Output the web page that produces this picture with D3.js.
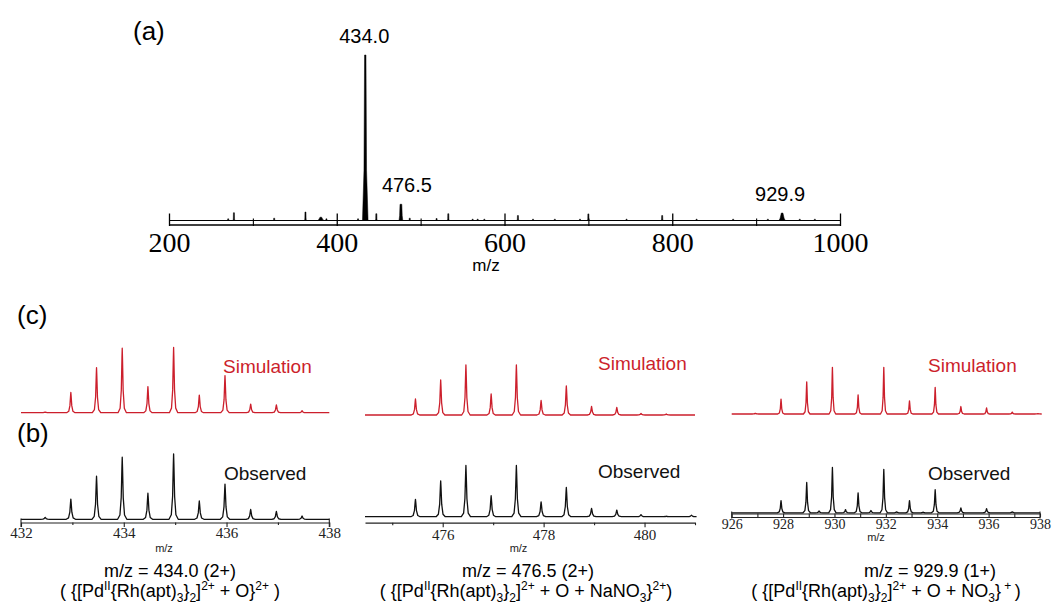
<!DOCTYPE html>
<html>
<head>
<meta charset="utf-8">
<script src="https://cdn.jsdelivr.net/npm/d3@7"></script>
<style>
  html, body { margin: 0; padding: 0; background: #fff; }
  svg { display: block; }
</style>
</head>
<body>
<svg id="chart" width="1053" height="607"></svg>
<script>
// ---------------- DATA ----------------
// (a) full spectrum: peak m/z and relative intensity (%)
const topMz  = [270.6, 277.4, 325.4, 362.7, 381, 387.7, 425.4, 434.0, 447.2, 476.5, 487, 519, 533, 562, 568, 576, 616, 634, 660, 690, 700, 745.5, 788, 829, 872.6, 914, 931, 952, 970];
const topInt = [1.0,   4.7,   1.4,   5.1,   2.0, 1.0,   1.0,   100,   4.1,   9.8,   1.4, 1.2, 4.1, 0.8, 0.8, 0.8, 3.0, 0.8, 0.8, 0.8, 4.0, 0.8,  3.0, 0.8, 0.8,   0.8, 4.5, 0.8, 0.8];
const topTicks = [200, 400, 600, 800, 1000];
const topMinorTicks = [300, 500, 700, 900];
const topPeakLabels = ["434.0", "476.5", "929.9"];
const topPeakLabelMz = [434.0, 476.5, 931];
const topPeakLabelInt = [100, 9.8, 4.5];

// (b)/(c) isotope patterns
const p1SimMz  = [432.47, 432.97, 433.47, 433.97, 434.47, 434.97, 435.47, 435.97, 436.47, 436.97, 437.47];
const p1SimInt = [1, 31, 69, 99, 40, 100, 27, 57, 13, 12, 3];
const p1ObsMz  = [432.47, 432.97, 433.47, 433.97, 434.47, 434.97, 435.47, 435.97, 436.47, 436.97, 437.47];
const p1ObsInt = [3, 31, 66, 95, 40, 100, 28, 54, 15, 12, 5];
const p1Ticks = [432, 434, 436, 438];
const p1Minor = [433, 435, 437];

const p2SimMz  = [475.46, 475.96, 476.46, 476.96, 477.46, 477.95, 478.45, 478.95, 479.45, 479.93, 480.43];
const p2SimInt = [32, 70, 100, 42, 100, 29, 58, 17, 15, 3, 2];
const p2ObsMz  = [475.46, 475.96, 476.46, 476.96, 477.46, 477.95, 478.45, 478.95, 479.45, 479.93, 480.43, 480.93];
const p2ObsInt = [34, 70, 100, 41, 100, 29, 57, 16, 13, 4, 1, 3];
const p2Ticks = [476, 478, 480];
const p2Minor = [475, 477, 479, 481];

const p3SimMz  = [926.92, 927.92, 928.92, 929.92, 930.92, 931.92, 932.92, 933.92, 934.92, 935.92, 936.92, 937.92];
const p3SimInt = [1.5, 32, 69, 100, 41, 100, 28, 57, 16, 13, 4, 1];
const p3ObsMz  = [927.92, 928.92, 929.4, 929.92, 930.43, 930.92, 931.42, 931.92, 932.42, 932.92, 933.45, 933.92, 934.92, 935.92, 936.92];
const p3ObsInt = [27, 67, 4, 100, 7, 44, 5, 96, 2, 27, 1.5, 51, 11, 9, 2];
const p3Ticks = [926, 928, 930, 932, 934, 936, 938];
const p3Minor = [927, 929, 931, 933, 935, 937];

// ---------------- DRAW ----------------
const svg = d3.select("#chart");
const SANS = "'Liberation Sans', Arial, Helvetica, sans-serif";
const SERIF = "'Liberation Serif', 'Times New Roman', Times, serif";
const RED = "#cc1f2c";
const fmtInt = d3.format("d");

// ---- (a) ----
const xTop = d3.scaleLinear().domain([200, 1000]).range([169, 840]);
const yTop = d3.scaleLinear().domain([0, 100]).range([220.5, 55]);
const gTop = svg.append("g");

gTop.append("line").attr("x1", xTop(200)).attr("x2", xTop(1000))
  .attr("y1", yTop(0)).attr("y2", yTop(0)).attr("stroke", "#000").attr("stroke-width", 1.2);

// peaks as narrow filled spikes (the 929.9 cluster is drawn as a small broad hump)
const peaks = topMz.map((m, i) => ({ m, v: topInt[i], i }));
const broadIdx = new Set([topMz.indexOf(931), topMz.indexOf(381)]);
gTop.selectAll("path.pk").data(peaks).join("path")
  .attr("class", "pk")
  .attr("fill", "#000")
  .attr("stroke", "#000")
  .attr("stroke-width", 0.5)
  .attr("d", d => {
    const x = xTop(d.m), b = yTop(0), t = yTop(d.v), h = b - t;
    let bw, mw, tw;
    if (d.v > 50) { bw = 2.8; mw = 1.3; tw = 0.7; }
    else if (d.v > 8) { bw = 1.9; mw = 1.3; tw = 0.9; }
    else if (broadIdx.has(d.i)) { bw = 3.2; mw = 2.0; tw = 0.8; }
    else { bw = 0.8; mw = 0.6; tw = 0.5; }
    return `M${x - bw},${b} L${x - mw},${b - h * 0.3} L${x - tw},${t} L${x + tw},${t} L${x + mw},${b - h * 0.3} L${x + bw},${b} Z`;
  });

const axTop = d3.axisBottom(xTop).tickValues(topTicks).tickFormat(fmtInt).tickSize(-11).tickSizeOuter(0).tickPadding(0);
const gAx = gTop.append("g").attr("transform", "translate(0,224.5)").call(axTop);
gAx.select(".domain").attr("stroke", "#000").attr("stroke-width", 1.4);
gAx.selectAll(".tick line").attr("stroke", "#000").attr("stroke-width", 1.3).attr("y1", 1.5);
gAx.selectAll(".tick text")
  .attr("y", 27.5).attr("dy", 0)
  .attr("font-family", SERIF).attr("font-size", 28).attr("fill", "#000");
const axTopMinor = d3.axisBottom(xTop).tickValues(topMinorTicks).tickSize(-6).tickSizeOuter(0).tickFormat("");
const gAxm = gTop.append("g").attr("transform", "translate(0,224.5)").call(axTopMinor);
gAxm.select(".domain").remove();
gAxm.selectAll(".tick line").attr("stroke", "#000").attr("stroke-width", 1.1).attr("y1", 1.5);

gTop.append("text").attr("x", 486).attr("y", 271).attr("text-anchor", "middle")
  .attr("font-family", SANS).attr("font-size", 17).text("m/z");

const labelDx = [-1, 6, -2];
gTop.selectAll("text.pl").data(topPeakLabels).join("text")
  .attr("class", "pl")
  .attr("x", (d, i) => xTop(topPeakLabelMz[i]) + labelDx[i])
  .attr("y", (d, i) => yTop(topPeakLabelInt[i]) - 12)
  .attr("text-anchor", "middle")
  .attr("font-family", SANS).attr("font-size", 20).text(d => d);

svg.append("text").attr("x", 133).attr("y", 40).attr("font-family", SANS).attr("font-size", 26).text("(a)");
svg.append("text").attr("x", 17).attr("y", 324).attr("font-family", SANS).attr("font-size", 26).text("(c)");
svg.append("text").attr("x", 17).attr("y", 442).attr("font-family", SANS).attr("font-size", 26).text("(b)");

// ---- isotope panels ----
function spectrumLine(xs, ys, mzArr, intArr, halfW) {
  const base = ys(0);
  const [r0, r1] = xs.range();
  const pts = [[r0, base]];
  mzArr.forEach((m, i) => {
    const x = xs(m), y = ys(intArr[i]), h = base - y;
    pts.push([x - halfW, base], [x - halfW * 0.5, base - h * 0.07], [x - halfW * 0.22, base - h * 0.35],
             [x - halfW * 0.06, base - h * 0.85], [x, y], [x + halfW * 0.06, base - h * 0.85],
             [x + halfW * 0.22, base - h * 0.35], [x + halfW * 0.5, base - h * 0.07], [x + halfW, base]);
  });
  pts.push([r1, base]);
  return d3.line()(pts);
}

const panels = [
  { domain: [432, 438], range: [21, 329.3],
    simMz: p1SimMz, simInt: p1SimInt, simBase: 412.7, simTop: 347.5,
    obsMz: p1ObsMz, obsInt: p1ObsInt, obsBase: 519.3, obsTop: 454,
    ticks: p1Ticks, minor: p1Minor, style: "open", axisY: 522.5, labelY: 538,
    mzX: 164, mzY: 552, simText: [223, 373], obsText: [224, 480], hw: 4.2,
    cap1: [170, 577], cap2: [170, 597] },
  { domain: [474.46, 481], range: [365, 695],
    simMz: p2SimMz, simInt: p2SimInt, simBase: 415, simTop: 365,
    obsMz: p2ObsMz, obsInt: p2ObsInt, obsBase: 516.7, obsTop: 465.5,
    ticks: p2Ticks, minor: p2Minor, style: "open", axisY: 522.7, labelY: 540,
    mzX: 518.5, mzY: 552, simText: [598, 370], obsText: [598, 478], hw: 4.2,
    cap1: [528, 577], cap2: [526, 597] },
  { domain: [926, 938], range: [731.7, 1040],
    simMz: p3SimMz, simInt: p3SimInt, simBase: 414, simTop: 367.3,
    obsMz: p3ObsMz, obsInt: p3ObsInt, obsBase: 512.8, obsTop: 467.5,
    ticks: p3Ticks, minor: p3Minor, style: "box", axisY: 513.5, labelY: 529,
    mzX: 876, mzY: 541, simText: [928, 372], obsText: [928, 480], hw: 3.3,
    cap1: [930, 577], cap2: [886, 597] }
];

panels.forEach(p => {
  const g = svg.append("g");
  const xs = d3.scaleLinear().domain(p.domain).range(p.range);
  const ySim = d3.scaleLinear().domain([0, 100]).range([p.simBase, p.simTop]);
  const yObs = d3.scaleLinear().domain([0, 100]).range([p.obsBase, p.obsTop]);

  g.append("path").attr("d", spectrumLine(xs, ySim, p.simMz, p.simInt, p.hw))
    .attr("fill", "none").attr("stroke", RED).attr("stroke-width", 1.3).attr("stroke-linejoin", "round");
  g.append("path").attr("d", spectrumLine(xs, yObs, p.obsMz, p.obsInt, p.hw + 0.4))
    .attr("fill", "none").attr("stroke", "#111").attr("stroke-width", 1.3).attr("stroke-linejoin", "round");

  const labelSize = p.style === "open" ? 15 : 14;
  const ax = d3.axisBottom(xs).tickValues(p.ticks).tickFormat(fmtInt)
    .tickSize(p.style === "open" ? 4.5 : 4).tickSizeOuter(0).tickPadding(0);
  const ga = g.append("g").attr("transform", `translate(0,${p.axisY})`).call(ax);
  ga.select(".domain").attr("stroke", "#222").attr("stroke-width", 1.2);
  ga.selectAll(".tick line").attr("stroke", "#222").attr("stroke-width", 1.1);
  ga.selectAll(".tick text").attr("y", p.labelY - p.axisY).attr("dy", 0)
    .attr("font-family", SERIF).attr("font-size", labelSize).attr("fill", "#222");
  const axm = d3.axisBottom(xs).tickValues(p.minor)
    .tickSize(p.style === "open" ? 2.5 : 4).tickSizeOuter(0).tickFormat("");
  const gm = g.append("g").attr("transform", `translate(0,${p.axisY})`).call(axm);
  gm.select(".domain").remove();
  gm.selectAll(".tick line").attr("stroke", "#222").attr("stroke-width", 1.1);

  if (p.style === "open") {
    if (p.domain[0] === p.ticks[0]) {
      [p.domain[0], p.domain[1]].forEach(v => {
        g.append("line").attr("x1", xs(v)).attr("x2", xs(v))
          .attr("y1", p.axisY - 4).attr("y2", p.axisY + 4.5)
          .attr("stroke", "#222").attr("stroke-width", 1.1);
      });
    }
  } else {
    g.append("line").attr("x1", p.range[0]).attr("x2", p.range[1])
      .attr("y1", p.axisY + 4).attr("y2", p.axisY + 4).attr("stroke", "#222").attr("stroke-width", 1.1);
    [p.range[0], p.range[1]].forEach(x => {
      g.append("line").attr("x1", x).attr("x2", x).attr("y1", p.axisY - 2).attr("y2", p.axisY + 5)
        .attr("stroke", "#222").attr("stroke-width", 1.1);
    });
  }

  g.append("text").attr("x", p.mzX).attr("y", p.mzY).attr("text-anchor", "middle")
    .attr("font-family", SANS).attr("font-size", 11).attr("fill", "#222").text("m/z");
  g.append("text").attr("x", p.simText[0]).attr("y", p.simText[1])
    .attr("font-family", SANS).attr("font-size", 19).attr("fill", RED).text("Simulation");
  g.append("text").attr("x", p.obsText[0]).attr("y", p.obsText[1])
    .attr("font-family", SANS).attr("font-size", 19).attr("fill", "#111").text("Observed");
});

// ---- captions ----
const captionMain = ["m/z = 434.0 (2+)", "m/z = 476.5 (2+)", "m/z = 929.9 (1+)"];
const captionFormula = [
  [["( {[Pd", 0], ["II", 1], ["{Rh(apt)", 0], ["3", -1], ["}", 0], ["2", -1], ["]", 0], ["2+", 1], [" + O}", 0], ["2+", 1], [" )", 0]],
  [["( {[Pd", 0], ["II", 1], ["{Rh(apt)", 0], ["3", -1], ["}", 0], ["2", -1], ["]", 0], ["2+", 1], [" + O + NaNO", 0], ["3", -1], ["}", 0], ["2+", 1], [")", 0]],
  [["( {[Pd", 0], ["II", 1], ["{Rh(apt)", 0], ["3", -1], ["}", 0], ["2", -1], ["]", 0], ["2+", 1], [" + O + NO", 0], ["3", -1], ["}", 0], [" + ", 1], [")", 0]]
];
panels.forEach((p, i) => {
  svg.append("text").attr("x", p.cap1[0]).attr("y", p.cap1[1]).attr("text-anchor", "middle")
    .attr("font-family", SANS).attr("font-size", 18).text(captionMain[i]);
  const t = svg.append("text").attr("x", p.cap2[0]).attr("y", p.cap2[1]).attr("text-anchor", "middle")
    .attr("font-family", SANS).attr("font-size", 18).attr("xml:space", "preserve");
  let cur = 0;
  captionFormula[i].forEach(([s, k]) => {
    const target = k === 1 ? -7 : (k === -1 ? 4.5 : 0);
    t.append("tspan").attr("dy", target - cur).attr("font-size", k === 0 ? 18 : 12)
      .style("white-space", "pre").text(s);
    cur = target;
  });
});
</script>
</body>
</html>
